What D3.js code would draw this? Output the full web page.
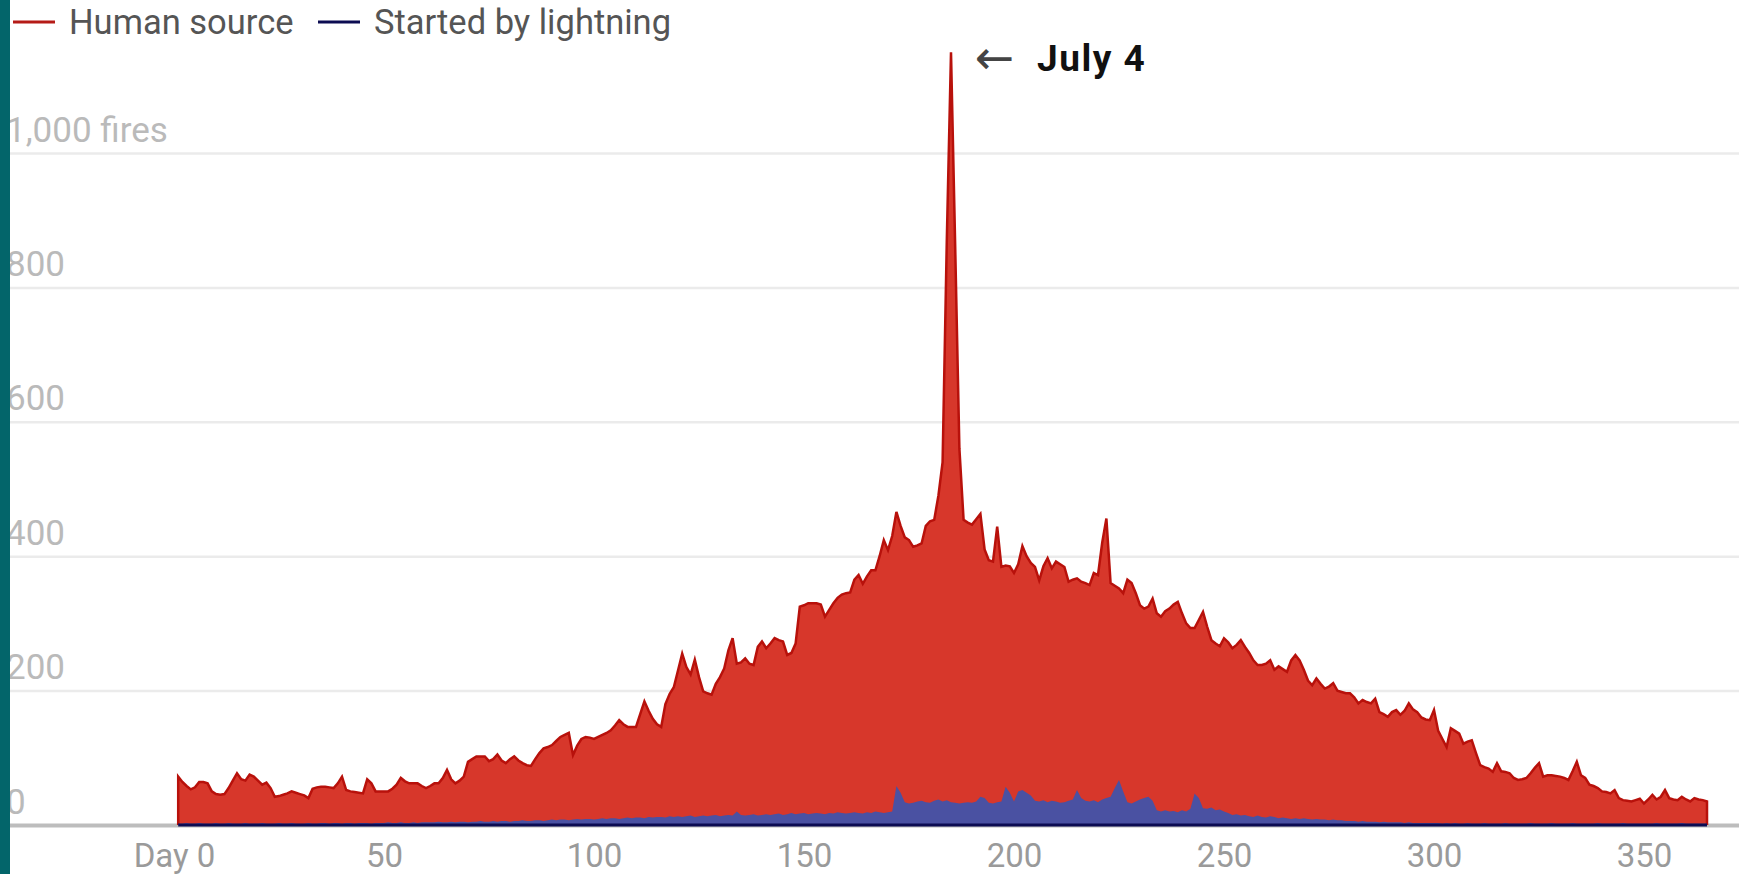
<!DOCTYPE html>
<html><head><meta charset="utf-8">
<script src="https://cdn.jsdelivr.net/npm/d3@7"></script>
<style>html,body{margin:0;padding:0;background:#fff;overflow:hidden}</style>
</head><body><svg id="c" width="1739" height="874"></svg>
<script>
// Daily fire counts, day 1 .. 365
const humanSource = [
72,64,58,53,56,64,64,62,50,46,
45,46,55,66,77,68,66,75,72,66,
60,63,55,42,43,45,47,50,48,46,
44,40,54,56,57,57,56,55,62,72,
52,50,49,48,47,68,62,50,50,50,
50,54,60,70,65,62,62,62,58,55,
58,62,62,70,82,68,62,66,72,94,
98,102,102,102,95,98,105,96,92,98,
102,96,92,89,88,98,107,114,116,119,
125,131,134,137,104,118,128,131,130,128,
131,134,137,141,148,156,150,146,146,146,
165,184,170,158,150,146,180,195,205,230,
255,235,224,246,220,199,196,194,210,220,
233,260,278,240,242,248,240,238,265,273,
263,270,278,275,273,253,256,270,325,327,
330,330,330,328,310,320,330,338,343,345,
346,365,372,359,370,379,379,400,424,409,
430,466,445,428,424,414,416,419,445,452,
454,490,540,870,1150,860,560,454,450,447,
455,463,410,394,392,444,384,386,385,375,
388,415,400,390,384,364,385,397,382,392,
388,384,362,365,367,362,360,357,375,372,
420,456,360,356,352,345,365,360,345,327,
322,325,337,315,310,318,322,328,332,315,
300,293,293,305,317,295,275,270,266,278,
272,263,268,275,265,256,245,238,238,240,
245,231,236,232,228,245,253,245,231,215,
208,218,210,203,206,211,200,198,196,196,
190,181,186,183,181,188,168,165,161,168,
171,164,170,181,172,168,160,157,156,171,
140,128,116,144,140,136,121,124,126,107,
89,86,84,79,92,80,79,77,70,67,
68,70,77,85,92,72,74,74,73,72,
70,67,80,94,74,70,60,58,55,50,
49,47,52,40,37,36,35,37,39,32,
38,45,38,42,52,40,38,37,42,38,
35,40,38,37,35
];
const lightning = [
2,2,3,2,2,3,2,2,2,3,2,2,3,2,2,2,3,2,2,2,3,2,2,2,3,2,2,3,2,2,
2,3,2,2,3,3,2,3,3,2,3,3,2,3,3,3,2,3,3,3,4,3,3,4,3,3,4,3,4,4,
4,4,5,4,4,5,4,5,5,4,5,5,6,5,5,6,5,6,6,5,6,6,7,6,6,7,7,6,7,8,
7,8,8,7,8,9,8,9,9,8,9,10,9,10,10,9,10,11,10,11,11,10,12,11,12,12,11,13,12,13,
12,13,14,12,13,14,13,14,15,13,14,15,14,20,15,14,15,16,14,15,16,15,16,17,15,16,18,16,17,18,
16,17,18,17,16,18,17,19,18,17,18,19,18,17,19,18,20,19,18,19,20,
58,48,34,32,33,35,36,34,33,36,38,35,37,34,33,32,33,34,33,35,42,40,33,32,34,35,57,48,35,
50,52,48,44,36,35,37,34,36,35,33,34,36,38,52,40,36,35,37,34,38,40,42,55,67,50,34,32,35,38,
40,42,36,22,20,22,20,21,19,22,20,24,47,40,25,24,26,22,23,20,18,15,16,14,15,13,12,14,12,11,
13,12,10,11,10,9,10,9,10,9,8,9,8,8,7,8,7,7,6,6,6,5,6,5,5,5,4,5,4,4,
4,4,3,4,3,3,3,3,3,3,3,2,3,2,3,2,2,3,2,2,2,3,2,2,2,2,3,2,2,2,
2,2,3,2,2,2,2,3,2,2,2,2,3,2,2,2,2,2,3,2,2,2,2,2,3,2,2,2,2,2,
2,2,3,2,2,2,2,2,3,2,2,2,2,2,2
];
const seriesNames = ["Human source", "Started by lightning"];
const xTicks = [0, 50, 100, 150, 200, 250, 300, 350];
const xTickLabels = ["Day 0", "50", "100", "150", "200", "250", "300", "350"];
const yTicks = [0, 200, 400, 600, 800, 1000];
const yTickLabels = ["0", "200", "400", "600", "800", "1,000 fires"];
const peakDay = 185;
const peakLabel = "July 4";

const W = 1739, H = 874;
const svg = d3.select("#c");
const FONT = "Roboto, 'Noto Sans', sans-serif";

const x = d3.scaleLinear().domain([0, 365]).range([174, 1707]);
const y = d3.scaleLinear().domain([0, 1000]).range([825, 153]);

const human = humanSource.map((v, i) => ({day: i + 1, v}));
const light = lightning.map((v, i) => ({day: i + 1, v}));

svg.append("rect").attr("width", W).attr("height", H).attr("fill", "#fff");

// y axis: gridlines + labels
const yAxis = d3.axisRight(y).tickValues(yTicks)
  .tickFormat((d, i) => yTickLabels[i]).tickSize(W - 10);
const gy = svg.append("g").attr("transform", "translate(10,0)").call(yAxis);
gy.select(".domain").remove();
gy.selectAll(".tick line")
  .attr("stroke", d => d === 0 ? "#bdbdbd" : "#ebebeb")
  .attr("stroke-width", d => d === 0 ? 4 : 2.5);
gy.selectAll(".tick text")
  .attr("x", -4).attr("y", -12).attr("dy", 0)
  .attr("text-anchor", "start")
  .attr("fill", "#bababa")
  .style("font-family", FONT).style("font-size", "35px");

// red area
const area = d3.area().x(d => x(d.day)).y0(y(0)).y1(d => y(d.v));
svg.append("path").datum(human).attr("d", area).attr("fill", "#d7372b");
const edge = [{day: 1, v: 0}, ...human, {day: 365, v: 0}];
const line = d3.line().x(d => x(d.day)).y(d => y(d.v));
svg.append("path").datum(edge).attr("d", line)
  .attr("fill", "none").attr("stroke", "#b8110b").attr("stroke-width", 2.5)
  .attr("stroke-linejoin", "miter");

// blue area
svg.append("path").datum(light).attr("d", area).attr("fill", "#4a51a2");
// navy baseline for lightning series
svg.append("path").datum([{day: 1, v: 0}, {day: 365, v: 0}]).attr("d", line)
  .attr("fill", "none").attr("stroke", "#0c0c52").attr("stroke-width", 3);

// left teal bar
svg.append("rect").attr("x", 0).attr("y", 0).attr("width", 10).attr("height", H).attr("fill", "#03656a");

// x axis
const xAxis = d3.axisBottom(x).tickValues(xTicks)
  .tickFormat((d, i) => xTickLabels[i]).tickSize(0);
const gx = svg.append("g").attr("transform", "translate(0,825)").call(xAxis);
gx.select(".domain").remove();
gx.selectAll(".tick text")
  .attr("y", 42).attr("dy", 0)
  .attr("fill", "#9a9a9a")
  .style("font-family", FONT).style("font-size", "33px");

// legend
const colors = ["#b51b17", "#0c0c52"];
const lg = svg.append("g");
const legX = [13, 318];
seriesNames.forEach((n, i) => {
  lg.append("line").attr("x1", legX[i]).attr("x2", legX[i] + 42)
    .attr("y1", 22).attr("y2", 22).attr("stroke", colors[i]).attr("stroke-width", 3);
  lg.append("text").attr("x", legX[i] + 56).attr("y", 34).text(n)
    .attr("fill", "#555").style("font-family", FONT).style("font-size", "34.5px");
});

// annotation
const px = x(peakDay), py = y(humanSource[peakDay - 1]);
svg.append("text").attr("x", px + 24).attr("y", py + 22).text("←")
  .attr("fill", "#444").style("font-family", "'DejaVu Sans', sans-serif").style("font-size", "47px");
svg.append("text").attr("x", px + 86).attr("y", py + 19).text(peakLabel)
  .attr("fill", "#111").style("font-family", FONT).style("font-weight", "bold")
  .style("font-size", "37px").style("letter-spacing", "1.5px");
</script></body></html>
